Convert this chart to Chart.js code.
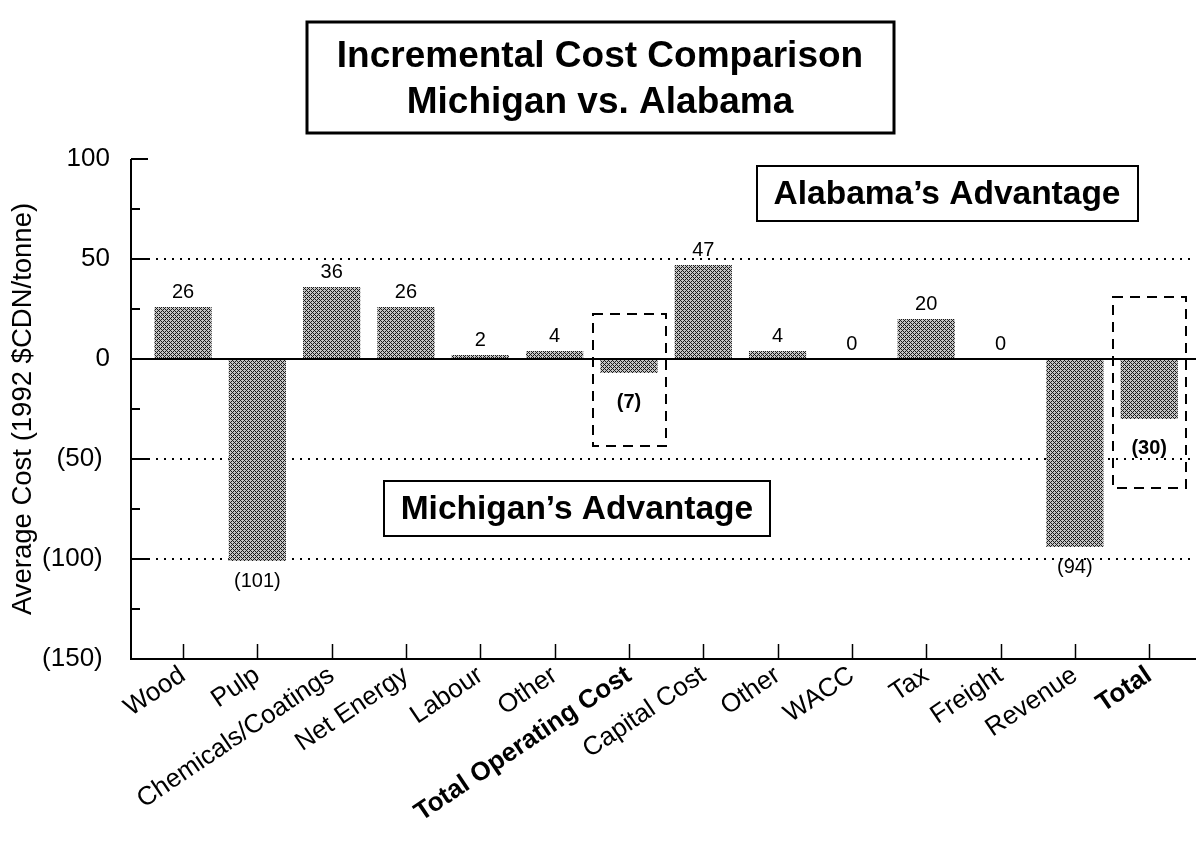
<!DOCTYPE html>
<html>
<head>
<meta charset="utf-8">
<script src="https://cdn.jsdelivr.net/npm/chart.js@4.4.1/dist/chart.umd.min.js"></script>
<style>
  html, body { margin: 0; padding: 0; background: #fff; }
  canvas { display: block; }
</style>
</head>
<body>
<canvas id="chart" width="1196" height="842"></canvas>
<script>
// Incremental cost comparison, Michigan vs. Alabama (1992 $CDN per tonne)
const categories = ['Wood', 'Pulp', 'Chemicals/Coatings', 'Net Energy', 'Labour', 'Other',
  'Total Operating Cost', 'Capital Cost', 'Other', 'WACC', 'Tax', 'Freight', 'Revenue', 'Total'];
const costDifference = [26, -101, 36, 26, 2, 4, -7, 47, 4, 0, 20, 0, -94, -30];
const subtotalIndexes = [6, 13];
const yTickValues = [100, 50, 0, -50, -100, -150];
const dottedLevels = [50, -50, -100];
const subtotalFrames = [
  { index: 6, top: 22.5, bottom: -43.5 },
  { index: 13, top: 31, bottom: -64.5 }
];
const regionNotes = [
  { text: 'Alabama\u2019s Advantage', x: 10.28, y: 82.75 },
  { text: 'Michigan\u2019s Advantage', x: 5.30, y: -74.75 }
];
const titleLines = ['Incremental Cost Comparison', 'Michigan vs. Alabama'];

const FONT = '"Liberation Sans", Arial, Helvetica, sans-serif';

// fine cross-hatched halftone used to fill the bars
function makeHalftone(ctx) {
  const tile = document.createElement('canvas');
  tile.width = 4; tile.height = 4;
  const g = tile.getContext('2d');
  g.fillStyle = '#c4c4c4';
  g.fillRect(0, 0, 4, 4);
  g.fillStyle = '#1a1a1a';
  for (let px = 0; px < 4; px++) {
    for (let py = 0; py < 4; py++) {
      if ((px + py) % 4 === 0 || ((px - py) % 4 + 4) % 4 === 0) g.fillRect(px, py, 1, 1);
    }
  }
  return ctx.createPattern(tile, 'repeat');
}

function strokeLine(ctx, x1, y1, x2, y2) {
  ctx.beginPath();
  ctx.moveTo(x1, y1);
  ctx.lineTo(x2, y2);
  ctx.stroke();
}

function formatValue(v) {
  return v < 0 ? '(' + (-v) + ')' : String(v);
}

const framePlugin = {
  id: 'costFrame',
  beforeDatasetsDraw(chart) {
    const { ctx, chartArea: a, scales: { y } } = chart;
    ctx.save();
    ctx.strokeStyle = '#000';
    ctx.lineWidth = 2;
    ctx.setLineDash([2, 6]);
    dottedLevels.forEach(v => {
      const py = Math.round(y.getPixelForValue(v));
      strokeLine(ctx, a.left + 17, py, a.right, py);
    });
    ctx.restore();
  },
  afterDatasetsDraw(chart) {
    const { ctx, chartArea: a, scales: { x, y } } = chart;
    ctx.save();
    ctx.strokeStyle = '#000';
    ctx.fillStyle = '#000';
    ctx.lineWidth = 2;

    // axes and zero line
    const y0 = Math.round(y.getPixelForValue(0));
    strokeLine(ctx, a.left, a.top, a.left, a.bottom + 1);
    strokeLine(ctx, a.left, a.bottom, a.right, a.bottom);
    strokeLine(ctx, a.left, y0, a.right, y0);

    // inward tick marks on the value axis: long every 50, short every 25
    for (let v = y.min; v <= y.max; v += 25) {
      const py = Math.round(y.getPixelForValue(v));
      const len = (v % 50 === 0) ? 17 : 9;
      strokeLine(ctx, a.left, py, a.left + len, py);
    }
    // inward tick marks on the category axis
    ctx.lineWidth = 1.5;
    categories.forEach((_, i) => {
      const px = Math.round(x.getPixelForValue(i)) + 0.5;
      strokeLine(ctx, px, a.bottom, px, a.bottom - 15);
    });

    // value labels
    const meta = chart.getDatasetMeta(0);
    ctx.textAlign = 'center';
    ctx.textBaseline = 'middle';
    meta.data.forEach((bar, i) => {
      const v = costDifference[i];
      const bold = subtotalIndexes.includes(i);
      ctx.font = (bold ? 'bold ' : '') + '20px ' + FONT;
      const ty = v < 0 ? bar.y + (bold ? 29 : 20) : bar.y - 15;
      ctx.fillText(formatValue(v), bar.x, ty);
    });

    // dashed frames around the subtotal bars
    ctx.lineWidth = 2;
    ctx.setLineDash([10, 7]);
    subtotalFrames.forEach(f => {
      const l = x.getPixelForValue(f.index - 0.49);
      const r = x.getPixelForValue(f.index + 0.49);
      const t = y.getPixelForValue(f.top);
      const b = y.getPixelForValue(f.bottom);
      ctx.strokeRect(Math.round(l), Math.round(t), Math.round(r - l), Math.round(b - t));
    });
    ctx.setLineDash([]);

    // region notes in outlined boxes
    ctx.font = 'bold 33.5px ' + FONT;
    regionNotes.forEach(n => {
      const cx = x.getPixelForValue(n.x);
      const cy = y.getPixelForValue(n.y);
      const w = ctx.measureText(n.text).width + 34;
      const h = 55;
      ctx.fillStyle = '#fff';
      ctx.fillRect(cx - w / 2, cy - h / 2, w, h);
      ctx.lineWidth = 2;
      ctx.strokeRect(Math.round(cx - w / 2), Math.round(cy - h / 2), Math.round(w), h);
      ctx.fillStyle = '#000';
      ctx.fillText(n.text, cx, cy + 1);
    });
    ctx.restore();
  },
  afterDraw(chart) {
    // boxed two-line heading
    const { ctx } = chart;
    ctx.save();
    ctx.font = 'bold 37px ' + FONT;
    ctx.textAlign = 'center';
    ctx.textBaseline = 'middle';
    ctx.fillStyle = '#000';
    const cx = 600;
    const w = 587;
    ctx.lineWidth = 3;
    ctx.strokeStyle = '#000';
    ctx.strokeRect(Math.round(cx - w / 2), 22, w, 111);
    titleLines.forEach((t, i) => ctx.fillText(t, cx, 57 + i * 46));
    ctx.restore();
  }
};

const canvas = document.getElementById('chart');
const ctx = canvas.getContext('2d');
const halftone = makeHalftone(ctx);

new Chart(ctx, {
  type: 'bar',
  data: {
    datasets: [{
      data: costDifference.map((v, i) => ({ x: i, y: v })),
      backgroundColor: halftone,
      borderWidth: 0,
      barPercentage: 1,
      categoryPercentage: 0.77
    }]
  },
  options: {
    responsive: false,
    animation: false,
    devicePixelRatio: 1,
    layout: { padding: { top: 159, right: 0, left: 0, bottom: 0 } },
    plugins: { legend: { display: false }, tooltip: { enabled: false } },
    scales: {
      x: {
        type: 'linear',
        min: -0.70,
        max: 13.63,
        offset: false,
        grid: { display: false, drawTicks: false },
        border: { display: false },
        afterBuildTicks: s => { s.ticks = categories.map((_, i) => ({ value: i })); },
        afterFit: s => { s.height = 183; },
        ticks: {
          autoSkip: false,
          minRotation: 34,
          maxRotation: 34,
          padding: 1,
          color: '#000',
          font: c => ({ family: FONT, size: 26, weight: subtotalIndexes.includes(c.index) ? 'bold' : 'normal' }),
          callback: v => categories[v]
        }
      },
      y: {
        min: -150,
        max: 100,
        grid: { display: false, drawTicks: false },
        border: { display: false },
        afterBuildTicks: s => { s.ticks = yTickValues.map(v => ({ value: v })); },
        afterFit: s => { s.width = 131; },
        ticks: {
          padding: 21,
          color: '#000',
          font: { family: FONT, size: 26 },
          callback: v => v < 0 ? '(' + (-v) + ') ' : String(v)
        },
        title: {
          display: true,
          text: 'Average Cost (1992 $CDN/tonne)',
          color: '#000',
          font: { family: FONT, size: 27.5 },
          padding: { top: 7, bottom: 0 }
        }
      }
    }
  },
  plugins: [framePlugin]
});
</script>
</body>
</html>
